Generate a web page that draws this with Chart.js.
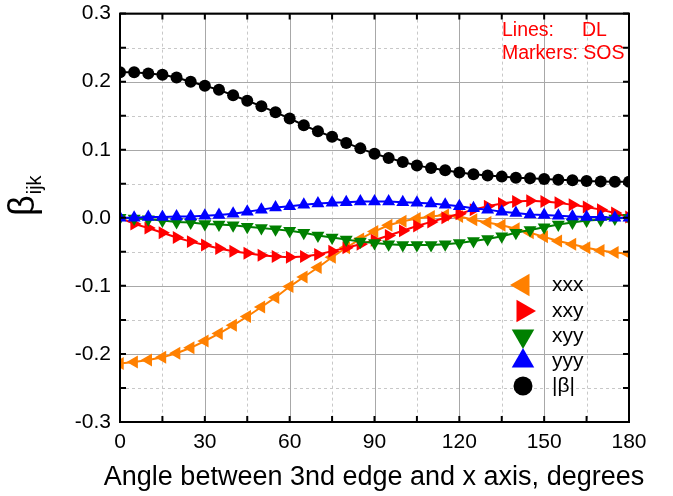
<!DOCTYPE html>
<html>
<head>
<meta charset="utf-8">
<script src="https://cdn.jsdelivr.net/npm/chart.js@4/dist/chart.umd.min.js"></script>
<style>
  html, body { margin: 0; padding: 0; background: #fff; }
  #wrap { width: 673px; height: 496px; }
</style>
</head>
<body>
<div id="wrap"><canvas id="c" width="673" height="496"></canvas></div>
<script>
// ---- data (angle in degrees, values of beta_ijk) ----
const angles = [0,5,10,15,20,25,30,35,40,45,50,55,60,65,70,75,80,85,90,95,100,105,110,115,120,125,130,135,140,145,150,155,160,165,170,175,180];
const xxx = [-0.214,-0.212,-0.209,-0.205,-0.199,-0.191,-0.181,-0.170,-0.158,-0.145,-0.131,-0.117,-0.101,-0.087,-0.073,-0.058,-0.044,-0.031,-0.020,-0.011,-0.005,-0.001,0.002,0.004,0.002,-0.003,-0.007,-0.011,-0.016,-0.022,-0.028,-0.034,-0.039,-0.044,-0.048,-0.051,-0.053];
const xxy = [0.000,-0.009,-0.015,-0.022,-0.029,-0.035,-0.040,-0.045,-0.049,-0.052,-0.055,-0.057,-0.058,-0.057,-0.054,-0.049,-0.044,-0.039,-0.033,-0.026,-0.019,-0.012,-0.006,0.000,0.006,0.012,0.017,0.021,0.024,0.025,0.024,0.022,0.019,0.016,0.012,0.007,0.001];
const xyy = [0.000,-0.001,-0.002,-0.004,-0.006,-0.007,-0.009,-0.010,-0.011,-0.013,-0.015,-0.017,-0.019,-0.022,-0.026,-0.029,-0.032,-0.035,-0.037,-0.039,-0.040,-0.040,-0.040,-0.039,-0.037,-0.034,-0.031,-0.027,-0.022,-0.018,-0.014,-0.010,-0.007,-0.004,-0.003,-0.001,0.000];
const yyy = [0.000,0.000,0.001,0.001,0.002,0.002,0.003,0.004,0.006,0.009,0.012,0.015,0.017,0.019,0.021,0.022,0.023,0.024,0.024,0.024,0.023,0.022,0.021,0.019,0.017,0.014,0.012,0.009,0.007,0.005,0.004,0.003,0.002,0.001,0.001,0.000,0.000];
const absBeta = [0.214,0.214,0.212,0.210,0.206,0.200,0.194,0.188,0.180,0.172,0.164,0.155,0.146,0.136,0.127,0.119,0.110,0.102,0.094,0.088,0.082,0.077,0.073,0.070,0.0665,0.064,0.062,0.0605,0.059,0.058,0.057,0.056,0.055,0.054,0.0535,0.053,0.053];
const seriesLabels = ['xxx','xxy','xyy','yyy','|β|'];
const xTickValues = [0,30,60,90,120,150,180];
const yTickValues = [-0.3,-0.2,-0.1,0.0,0.1,0.2,0.3];
const xTitle = 'Angle between 3nd edge and x axis, degrees';
const yTitleMain = 'β';
const yTitleSub = 'ijk';
const noteLines = [['Lines:', 'DL'], ['Markers:', 'SOS']];

// ---- styles ----
const colors = ['#ff8000','#ff0000','#008000','#0000ff','#000000'];
const styles = [
  {pointStyle:'triangle', rotation:-90},
  {pointStyle:'triangle', rotation:90},
  {pointStyle:'triangle', rotation:180},
  {pointStyle:'triangle', rotation:0},
  {pointStyle:'circle', rotation:0}
];
const seriesData = [xxx, xxy, xyy, yyy, absBeta];
const FONT = '"Liberation Sans", Arial, sans-serif';

const datasets = seriesData.map((arr, i) => ({
  label: seriesLabels[i],
  data: angles.map((a, j) => ({x: a, y: arr[j]})),
  borderColor: colors[i],
  backgroundColor: colors[i],
  borderWidth: 2,
  pointStyle: styles[i].pointStyle,
  rotation: styles[i].rotation,
  pointRadius: styles[i].pointStyle === 'circle' ? 6 : 7.5,
  pointBorderWidth: 0,
  pointBackgroundColor: colors[i],
  showLine: true,
  tension: 0,
  order: 4 - i
}));

const framePlugin = {
  id: 'frame',
  beforeDatasetsDraw(chart) {
    const {ctx, chartArea: ca, scales: {x, y}} = chart;
    ctx.save();
    ctx.lineWidth = 1;
    ctx.strokeStyle = '#c8c8c8';
    ctx.setLineDash([3, 3]);
    for (let v = 15; v < 180; v += 30) {
      const px = Math.round(x.getPixelForValue(v)) + 0.5;
      ctx.beginPath(); ctx.moveTo(px, ca.top); ctx.lineTo(px, ca.bottom); ctx.stroke();
    }
    for (let k = -5; k <= 5; k += 2) {
      const py = Math.round(y.getPixelForValue(k * 0.05)) + 0.5;
      ctx.beginPath(); ctx.moveTo(ca.left, py); ctx.lineTo(ca.right, py); ctx.stroke();
    }
    ctx.setLineDash([]);
    ctx.strokeStyle = '#a8a8a8';
    xTickValues.forEach(v => {
      const px = Math.round(x.getPixelForValue(v)) + 0.5;
      ctx.beginPath(); ctx.moveTo(px, ca.top); ctx.lineTo(px, ca.bottom); ctx.stroke();
    });
    yTickValues.forEach(v => {
      const py = Math.round(y.getPixelForValue(v)) + 0.5;
      ctx.beginPath(); ctx.moveTo(ca.left, py); ctx.lineTo(ca.right, py); ctx.stroke();
    });
    ctx.restore();
  },
  afterDraw(chart) {
    const {ctx, chartArea: ca, scales: {x, y}} = chart;
    ctx.save();
    ctx.strokeStyle = '#000';
    ctx.lineWidth = 2;
    ctx.strokeRect(ca.left, ca.top, ca.right - ca.left, ca.bottom - ca.top);
    const TL = 6;
    for (let v = 0; v <= 180; v += 15) {
      const px = x.getPixelForValue(v);
      ctx.beginPath();
      ctx.moveTo(px, ca.bottom); ctx.lineTo(px, ca.bottom - TL);
      ctx.moveTo(px, ca.top); ctx.lineTo(px, ca.top + TL);
      ctx.stroke();
    }
    for (let k = -6; k <= 6; k++) {
      const py = y.getPixelForValue(k * 0.05);
      ctx.beginPath();
      ctx.moveTo(ca.left, py); ctx.lineTo(ca.left + TL, py);
      ctx.moveTo(ca.right, py); ctx.lineTo(ca.right - TL, py);
      ctx.stroke();
    }
    // x axis title
    ctx.fillStyle = '#000';
    ctx.font = '27px ' + FONT;
    ctx.textAlign = 'center';
    ctx.textBaseline = 'alphabetic';
    ctx.fillText(xTitle, 374, 485);
    // y axis title (rotated)
    ctx.save();
    ctx.translate(34, 216);
    ctx.rotate(-Math.PI / 2);
    ctx.textAlign = 'left';
    ctx.font = '36px ' + FONT;
    ctx.fillText(yTitleMain, 0, 0);
    const w = ctx.measureText(yTitleMain).width;
    ctx.font = '20px ' + FONT;
    ctx.fillText(yTitleSub, w + 1, 7);
    ctx.restore();
    // notes
    ctx.fillStyle = '#ff0000';
    ctx.font = '19.5px ' + FONT;
    ctx.textBaseline = 'middle';
    ctx.textAlign = 'left';
    ctx.fillText(noteLines[0][0], 502, 31);
    ctx.fillText(noteLines[0][1], 582, 31);
    ctx.fillText(noteLines[1][0] + ' ' + noteLines[1][1], 502, 54);
    // legend
    const rows = [285, 311, 336, 361, 386];
    chart.data.datasets.forEach((ds, i) => {
      ctx.fillStyle = ds.backgroundColor;
      ctx.strokeStyle = ds.backgroundColor;
      Chart.helpers.drawPoint(ctx, {
        pointStyle: ds.pointStyle,
        rotation: ds.rotation,
        radius: ds.pointStyle === 'circle' ? 9.5 : 13,
        borderWidth: 0
      }, 523, rows[i]);
      ctx.fillStyle = '#000';
      ctx.font = '21px ' + FONT;
      ctx.textBaseline = 'middle';
      ctx.fillText(ds.label, 552, rows[i]);
    });
    ctx.restore();
  }
};

new Chart(document.getElementById('c'), {
  type: 'line',
  data: { datasets },
  options: {
    responsive: false,
    animation: false,
    layout: { padding: { top: 12, right: 44, left: 0, bottom: 0 } },
    plugins: { legend: { display: false }, tooltip: { enabled: false } },
    scales: {
      x: {
        type: 'linear', min: 0, max: 180,
        afterBuildTicks: s => { s.ticks = xTickValues.map(v => ({value: v})); },
        afterFit: s => { s.height = 74; },
        grid: { display: false },
        border: { display: false },
        ticks: { color: '#000', font: { family: FONT, size: 21 }, padding: 0, maxRotation: 0, autoSkip: false }
      },
      y: {
        type: 'linear', min: -0.3, max: 0.3,
        afterBuildTicks: s => { s.ticks = yTickValues.map(v => ({value: v})); },
        afterFit: s => { s.width = 120; },
        grid: { display: false },
        border: { display: false },
        ticks: { color: '#000', font: { family: FONT, size: 21 }, padding: 1,
          callback: v => Number(v).toFixed(1) }
      }
    }
  },
  plugins: [framePlugin]
});
</script>
</body>
</html>
